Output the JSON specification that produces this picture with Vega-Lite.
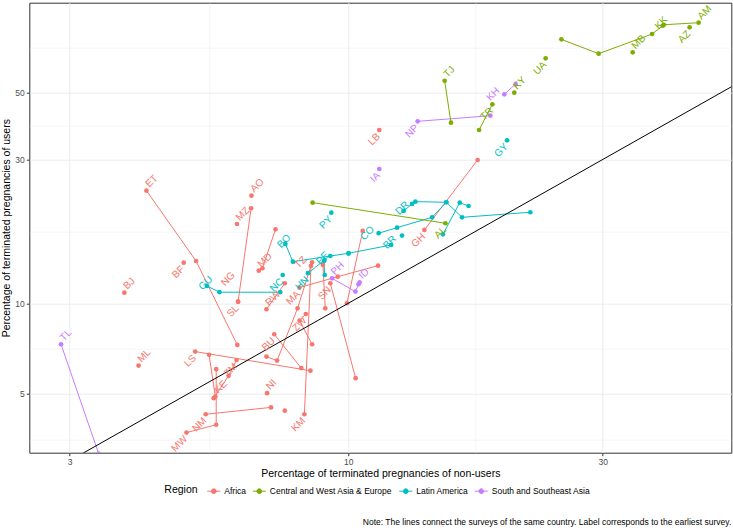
{
 "$schema": "https://vega.github.io/schema/vega-lite/v6.json",
 "width": 702, "height": 450,
 "autosize": "none",
 "padding": {"left": 29.3, "top": 2.7, "right": 1.7, "bottom": 78.3},
 "background": "white",
 "config": {"view": {"stroke": "#333333", "strokeWidth": 1}, "font": "Liberation Sans"},
 "title": {"text": "Note: The lines connect the surveys of the same country. Label corresponds to the earliest survey.", "orient": "bottom", "anchor": "end", "fontSize": 8.5, "fontWeight": "normal", "color": "black", "offset": 22},
 "datasets": {
  "surveys": [
   {"c":"ET","r":"Africa","s":1,"x":4.18,"y":23.64,"label":"ET","side":"NE"},
   {"c":"ET","r":"Africa","s":2,"x":5.18,"y":13.81,"label":"","side":""},
   {"c":"ET","r":"Africa","s":3,"x":6.19,"y":7.27,"label":"","side":""},
   {"c":"BF","r":"Africa","s":1,"x":4.91,"y":13.64,"label":"BF","side":"SW"},
   {"c":"BJ","r":"Africa","s":1,"x":3.80,"y":10.84,"label":"BJ","side":"NE"},
   {"c":"AO","r":"Africa","s":1,"x":6.58,"y":22.76,"label":"AO","side":"NE"},
   {"c":"MZ","r":"Africa","s":1,"x":6.18,"y":18.33,"label":"MZ","side":"NE"},
   {"c":"NG","r":"Africa","s":1,"x":6.21,"y":10.12,"label":"NG","side":"N"},
   {"c":"NG","r":"Africa","s":2,"x":6.57,"y":20.67,"label":"","side":""},
   {"c":"SL","r":"Africa","s":1,"x":6.21,"y":10.12,"label":"SL","side":"SW"},
   {"c":"MD","r":"Africa","s":1,"x":6.79,"y":12.83,"label":"MD","side":"NE"},
   {"c":"MD","r":"Africa","s":2,"x":6.90,"y":13.07,"label":"","side":""},
   {"c":"MD","r":"Africa","s":3,"x":7.30,"y":17.60,"label":"","side":""},
   {"c":"RW","r":"Africa","s":1,"x":7.02,"y":9.55,"label":"RW","side":"NE"},
   {"c":"RW","r":"Africa","s":2,"x":7.60,"y":11.65,"label":"","side":""},
   {"c":"NI","r":"Africa","s":1,"x":7.04,"y":5.03,"label":"NI","side":"NE"},
   {"c":"u1","r":"Africa","s":1,"x":7.60,"y":4.40,"label":"","side":""},
   {"c":"KM","r":"Africa","s":1,"x":8.27,"y":4.28,"label":"KM","side":"SW"},
   {"c":"KM","r":"Africa","s":2,"x":8.51,"y":13.30,"label":"","side":""},
   {"c":"TZ","r":"Africa","s":1,"x":8.55,"y":13.68,"label":"TZ","side":"NW"},
   {"c":"TZ","r":"Africa","s":2,"x":8.03,"y":9.62,"label":"","side":""},
   {"c":"TZ","r":"Africa","s":3,"x":7.35,"y":6.45,"label":"","side":""},
   {"c":"TZ","r":"Africa","s":4,"x":7.02,"y":6.65,"label":"","side":""},
   {"c":"ZW","r":"Africa","s":1,"x":8.32,"y":9.21,"label":"ZW","side":"SW"},
   {"c":"ZW","r":"Africa","s":2,"x":8.10,"y":8.75,"label":"","side":""},
   {"c":"ZW","r":"Africa","s":3,"x":8.55,"y":7.31,"label":"","side":""},
   {"c":"BU","r":"Africa","s":1,"x":7.26,"y":7.89,"label":"BU","side":"SW"},
   {"c":"BU","r":"Africa","s":2,"x":8.16,"y":6.09,"label":"","side":""},
   {"c":"LS","r":"Africa","s":1,"x":5.16,"y":6.91,"label":"LS","side":"SW"},
   {"c":"LS","r":"Africa","s":2,"x":8.49,"y":5.97,"label":"","side":""},
   {"c":"ZM","r":"Africa","s":1,"x":6.17,"y":6.48,"label":"ZM","side":"SW"},
   {"c":"ZM","r":"Africa","s":2,"x":5.96,"y":5.74,"label":"","side":""},
   {"c":"ZM","r":"Africa","s":3,"x":5.59,"y":4.84,"label":"","side":""},
   {"c":"KE","r":"Africa","s":1,"x":5.63,"y":4.90,"label":"KE","side":"NE"},
   {"c":"KE","r":"Africa","s":2,"x":5.48,"y":6.74,"label":"","side":""},
   {"c":"MW","r":"Africa","s":1,"x":4.97,"y":3.72,"label":"MW","side":"SW"},
   {"c":"MW","r":"Africa","s":2,"x":5.65,"y":3.95,"label":"","side":""},
   {"c":"MW","r":"Africa","s":3,"x":5.65,"y":6.04,"label":"","side":""},
   {"c":"NM","r":"Africa","s":1,"x":5.40,"y":4.28,"label":"NM","side":"SW"},
   {"c":"NM","r":"Africa","s":2,"x":7.16,"y":4.51,"label":"","side":""},
   {"c":"ML","r":"Africa","s":1,"x":4.04,"y":6.21,"label":"ML","side":"NE"},
   {"c":"MA","r":"Africa","s":1,"x":8.09,"y":11.27,"label":"MA","side":"SW"},
   {"c":"MA","r":"Africa","s":2,"x":9.55,"y":12.25,"label":"","side":""},
   {"c":"MA","r":"Africa","s":3,"x":11.37,"y":13.33,"label":"","side":""},
   {"c":"SN","r":"Africa","s":1,"x":9.25,"y":11.65,"label":"SN","side":"SW"},
   {"c":"SN","r":"Africa","s":2,"x":10.32,"y":5.64,"label":"","side":""},
   {"c":"u2","r":"Africa","s":1,"x":9.05,"y":9.62,"label":"","side":""},
   {"c":"u2","r":"Africa","s":2,"x":8.96,"y":13.40,"label":"","side":""},
   {"c":"u3","r":"Africa","s":1,"x":10.64,"y":17.38,"label":"","side":""},
   {"c":"u3","r":"Africa","s":2,"x":9.94,"y":10.0,"label":"","side":""},
   {"c":"LB","r":"Africa","s":1,"x":11.43,"y":37.6,"label":"LB","side":"SW"},
   {"c":"GH","r":"Africa","s":1,"x":13.89,"y":17.51,"label":"GH","side":"SW"},
   {"c":"GH","r":"Africa","s":2,"x":17.48,"y":29.9,"label":"","side":""},
   {"c":"GU","r":"Latin America","s":1,"x":5.43,"y":11.41,"label":"GU","side":"C"},
   {"c":"GU","r":"Latin America","s":2,"x":5.73,"y":10.88,"label":"","side":""},
   {"c":"GU","r":"Latin America","s":3,"x":7.45,"y":10.88,"label":"","side":""},
   {"c":"NC","r":"Latin America","s":1,"x":7.53,"y":12.41,"label":"NC","side":"SW"},
   {"c":"BO","r":"Latin America","s":1,"x":7.62,"y":15.73,"label":"BO","side":"C"},
   {"c":"BO","r":"Latin America","s":2,"x":7.87,"y":13.74,"label":"","side":""},
   {"c":"BO","r":"Latin America","s":3,"x":9.25,"y":14.35,"label":"","side":""},
   {"c":"BO","r":"Latin America","s":4,"x":10.01,"y":14.65,"label":"","side":""},
   {"c":"HN","r":"Latin America","s":1,"x":8.40,"y":12.58,"label":"HN","side":"SW"},
   {"c":"HN","r":"Latin America","s":2,"x":9.02,"y":13.92,"label":"","side":""},
   {"c":"PE","r":"Latin America","s":1,"x":9.0,"y":13.81,"label":"PE","side":"C"},
   {"c":"PE","r":"Latin America","s":2,"x":9.03,"y":12.41,"label":"","side":""},
   {"c":"BR","r":"Latin America","s":1,"x":12.03,"y":15.61,"label":"BR","side":"C"},
   {"c":"BR","r":"Latin America","s":2,"x":10.01,"y":14.65,"label":"","side":""},
   {"c":"CO","r":"Latin America","s":1,"x":11.40,"y":17.08,"label":"CO","side":"NW"},
   {"c":"CO","r":"Latin America","s":2,"x":12.34,"y":17.82,"label":"","side":""},
   {"c":"CO","r":"Latin America","s":3,"x":14.36,"y":19.29,"label":"","side":""},
   {"c":"CO","r":"Latin America","s":4,"x":15.27,"y":21.64,"label":"","side":""},
   {"c":"DR","r":"Latin America","s":1,"x":12.70,"y":20.25,"label":"DR","side":"C"},
   {"c":"DR","r":"Latin America","s":2,"x":13.17,"y":21.36,"label":"","side":""},
   {"c":"DR","r":"Latin America","s":3,"x":13.36,"y":21.74,"label":"","side":""},
   {"c":"DR","r":"Latin America","s":4,"x":15.27,"y":21.64,"label":"","side":""},
   {"c":"DR","r":"Latin America","s":5,"x":16.34,"y":19.29,"label":"","side":""},
   {"c":"DR","r":"Latin America","s":6,"x":21.95,"y":20.05,"label":"","side":""},
   {"c":"u4","r":"Latin America","s":1,"x":15.05,"y":16.94,"label":"","side":""},
   {"c":"u4","r":"Latin America","s":2,"x":16.18,"y":21.58,"label":"","side":""},
   {"c":"u4","r":"Latin America","s":3,"x":16.81,"y":21.03,"label":"","side":""},
   {"c":"u5","r":"Latin America","s":1,"x":12.61,"y":16.77,"label":"","side":""},
   {"c":"PY","r":"Latin America","s":1,"x":9.29,"y":19.98,"label":"PY","side":"SW"},
   {"c":"GY","r":"Latin America","s":1,"x":19.85,"y":34.75,"label":"GY","side":"SW"},
   {"c":"TL","r":"South and Southeast Asia","s":1,"x":2.89,"y":7.31,"label":"TL","side":"NE"},
   {"c":"TL","r":"South and Southeast Asia","s":2,"x":3.40,"y":3.17,"label":"","side":""},
   {"c":"PH","r":"South and Southeast Asia","s":1,"x":9.32,"y":12.10,"label":"PH","side":"NE"},
   {"c":"PH","r":"South and Southeast Asia","s":2,"x":10.31,"y":10.93,"label":"","side":""},
   {"c":"PH","r":"South and Southeast Asia","s":3,"x":10.45,"y":11.56,"label":"","side":""},
   {"c":"ID","r":"South and Southeast Asia","s":1,"x":10.50,"y":11.74,"label":"ID","side":"NE"},
   {"c":"IA","r":"South and Southeast Asia","s":1,"x":11.43,"y":27.91,"label":"IA","side":"SW"},
   {"c":"NP","r":"South and Southeast Asia","s":1,"x":13.49,"y":40.18,"label":"NP","side":"SW"},
   {"c":"NP","r":"South and Southeast Asia","s":2,"x":18.47,"y":41.94,"label":"","side":""},
   {"c":"KH","r":"South and Southeast Asia","s":1,"x":19.62,"y":49.40,"label":"KH","side":"NW"},
   {"c":"KH","r":"South and Southeast Asia","s":2,"x":20.60,"y":53.43,"label":"","side":""},
   {"c":"AL","r":"Central and West Asia & Europe","s":1,"x":15.21,"y":18.43,"label":"AL","side":"SW"},
   {"c":"AL","r":"Central and West Asia & Europe","s":2,"x":8.57,"y":21.58,"label":"","side":""},
   {"c":"TJ","r":"Central and West Asia & Europe","s":1,"x":15.16,"y":54.8,"label":"TJ","side":"NE"},
   {"c":"TJ","r":"Central and West Asia & Europe","s":2,"x":15.58,"y":39.76,"label":"","side":""},
   {"c":"TR","r":"Central and West Asia & Europe","s":1,"x":18.63,"y":45.76,"label":"TR","side":"SW"},
   {"c":"TR","r":"Central and West Asia & Europe","s":2,"x":17.59,"y":37.6,"label":"","side":""},
   {"c":"KY","r":"Central and West Asia & Europe","s":1,"x":20.48,"y":50.0,"label":"KY","side":"NE"},
   {"c":"UA","r":"Central and West Asia & Europe","s":1,"x":23.45,"y":65.05,"label":"UA","side":"SW"},
   {"c":"KK","r":"Central and West Asia & Europe","s":1,"x":38.88,"y":83.44,"label":"KK","side":"C"},
   {"c":"KK","r":"Central and West Asia & Europe","s":2,"x":37.14,"y":78.32,"label":"","side":""},
   {"c":"KK","r":"Central and West Asia & Europe","s":3,"x":29.49,"y":67.38,"label":"","side":""},
   {"c":"KK","r":"Central and West Asia & Europe","s":4,"x":25.10,"y":75.19,"label":"","side":""},
   {"c":"AM","r":"Central and West Asia & Europe","s":1,"x":45.41,"y":85.38,"label":"AM","side":"NE"},
   {"c":"AM","r":"Central and West Asia & Europe","s":2,"x":39.08,"y":84.08,"label":"","side":""},
   {"c":"AZ","r":"Central and West Asia & Europe","s":1,"x":43.68,"y":82.41,"label":"AZ","side":"SW"},
   {"c":"MB","r":"Central and West Asia & Europe","s":1,"x":34.16,"y":68.11,"label":"MB","side":"NE"}
  ],
  "diag": [{"x": 2, "y": 2}, {"x": 100, "y": 100}]
 },
 "encoding": {
  "x": {"field": "x", "type": "quantitative",
        "scale": {"type": "log", "domain": [2.52, 52.3], "nice": false, "zero": false},
        "axis": {"title": "Percentage of terminated pregnancies of non-users",
                 "values": [3, 5.4772, 10, 17.3205, 30],
                 "labelExpr": "(datum.value == 3 || datum.value == 10 || datum.value == 30) ? datum.label : ''",
                 "grid": true, "gridColor": "#EBEBEB",
                 "gridWidth": {"condition": {"test": "datum.value == 3 || datum.value == 10 || datum.value == 30", "value": 1}, "value": 0.5},
                 "tickOpacity": {"condition": {"test": "datum.value == 3 || datum.value == 10 || datum.value == 30", "value": 1}, "value": 0},
                 "tickColor": "#333333", "tickSize": 3, "domain": false,
                 "labelFontSize": 8.5, "labelColor": "#4D4D4D", "labelPadding": 2, "labelFlush": false, "labelOverlap": false,
                 "titleFontSize": 10.5, "titleFontWeight": "normal", "titleColor": "black", "titlePadding": 2}},
  "y": {"field": "y", "type": "quantitative",
        "scale": {"type": "log", "domain": [3.19, 99.5], "nice": false, "zero": false},
        "axis": {"title": "Percentage of terminated pregnancies of users",
                 "values": [3.5355, 5, 7.0711, 10, 17.3205, 30, 38.7298, 50, 70.7107],
                 "labelExpr": "(datum.value == 5 || datum.value == 10 || datum.value == 30 || datum.value == 50) ? datum.label : ''",
                 "grid": true, "gridColor": "#EBEBEB",
                 "gridWidth": {"condition": {"test": "datum.value == 5 || datum.value == 10 || datum.value == 30 || datum.value == 50", "value": 1}, "value": 0.5},
                 "tickOpacity": {"condition": {"test": "datum.value == 5 || datum.value == 10 || datum.value == 30 || datum.value == 50", "value": 1}, "value": 0},
                 "tickColor": "#333333", "tickSize": 3, "domain": false,
                 "labelFontSize": 8.5, "labelColor": "#4D4D4D", "labelPadding": 2, "labelFlush": false, "labelOverlap": false,
                 "titleFontSize": 10.5, "titleFontWeight": "normal", "titleColor": "black", "titlePadding": 3}},
  "color": {"field": "r", "type": "nominal",
            "scale": {"domain": ["Africa", "Central and West Asia & Europe", "Latin America", "South and Southeast Asia"],
                      "range": ["#F8766D", "#7CAE00", "#00BFC4", "#C77CFF"]},
            "legend": {"title": "Region", "orient": "none", "legendX": 135, "legendY": 481, "direction": "horizontal",
                       "titleOrient": "left", "titleFontSize": 10.5, "titleFontWeight": "normal", "titleColor": "black",
                       "labelFontSize": 8.5, "labelColor": "black", "columnPadding": 3.5, "titlePadding": 8, "labelOffset": 3,
                       "symbolType": "M-1,0H1M0.36,0A0.36,0.36,0,1,1,-0.36,0A0.36,0.36,0,1,1,0.36,0Z",
                       "symbolSize": 170, "symbolStrokeWidth": 1,
                       "encode": {"symbols": {"update": {"fill": {"scale": "color", "field": "value"}, "stroke": {"scale": "color", "field": "value"}, "opacity": {"value": 1}}}}}}
 },
 "layer": [
  {"data": {"name": "surveys"}, "mark": {"type": "line", "strokeWidth": 1, "clip": true},
   "encoding": {"detail": {"field": "c"}, "order": {"field": "s", "type": "quantitative"}}},
  {"data": {"name": "surveys"}, "mark": {"type": "circle", "size": 22, "opacity": 1, "clip": true}},
  {"data": {"name": "diag"}, "mark": {"type": "line", "color": "black", "strokeWidth": 1, "clip": true},
   "encoding": {"color": {"value": "black"}}},
  {"data": {"name": "surveys"}, "transform": [{"filter": "datum.side == 'NE'"}],
   "mark": {"type": "text", "angle": 315, "align": "left", "baseline": "middle", "dx": 4, "dy": -3, "fontSize": 10},
   "encoding": {"text": {"field": "label"}}},
  {"data": {"name": "surveys"}, "transform": [{"filter": "datum.side == 'SW'"}],
   "mark": {"type": "text", "angle": 315, "align": "right", "baseline": "middle", "dx": -4, "dy": 3, "fontSize": 10},
   "encoding": {"text": {"field": "label"}}},
  {"data": {"name": "surveys"}, "transform": [{"filter": "datum.side == 'NW'"}],
   "mark": {"type": "text", "angle": 315, "align": "center", "baseline": "middle", "dx": -8, "dy": -8, "fontSize": 10},
   "encoding": {"text": {"field": "label"}}},
  {"data": {"name": "surveys"}, "transform": [{"filter": "datum.side == 'N'"}],
   "mark": {"type": "text", "angle": 315, "align": "center", "baseline": "middle", "dx": 9, "dy": -23, "fontSize": 10},
   "encoding": {"text": {"field": "label"}}},
  {"data": {"name": "surveys"}, "transform": [{"filter": "datum.side == 'C'"}],
   "mark": {"type": "text", "angle": 315, "align": "center", "baseline": "middle", "dx": 1, "dy": -3, "fontSize": 10},
   "encoding": {"text": {"field": "label"}}}
 ]
}
